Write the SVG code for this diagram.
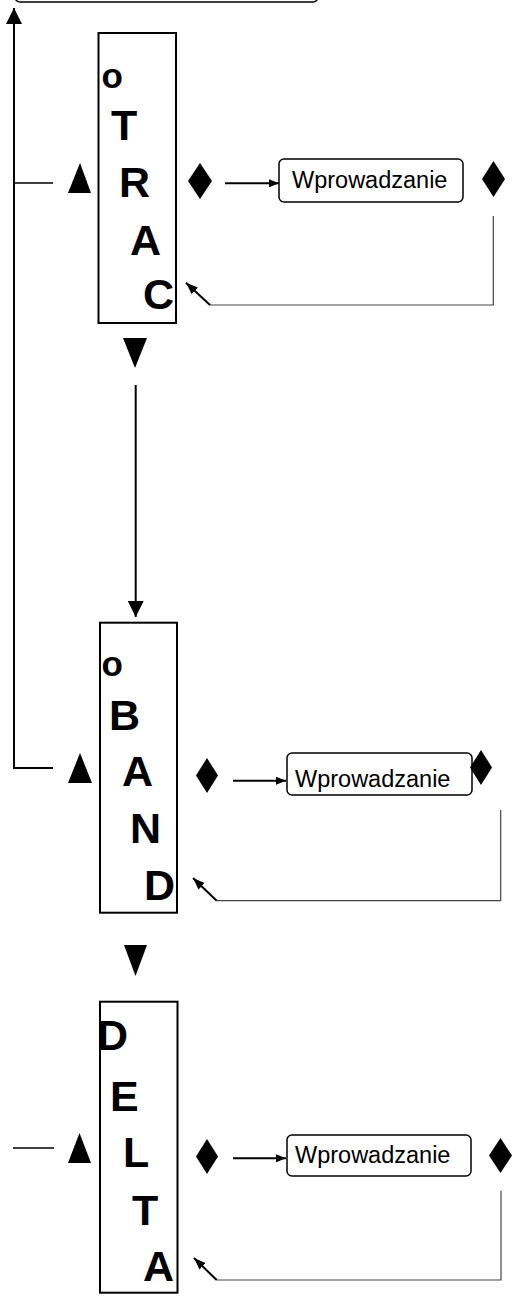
<svg xmlns="http://www.w3.org/2000/svg" width="513" height="1298" viewBox="0 0 513 1298">
  <style>
    .col { fill: #fff; stroke: #000; stroke-width: 2; }
    .entry { fill: #fff; stroke: #000; stroke-width: 1.5; }
    .big { font-family: "Liberation Sans", Arial, sans-serif; font-weight: bold; font-size: 43px; fill: #000; }
    .small-o { font-family: "Liberation Sans", Arial, sans-serif; font-weight: bold; font-size: 35px; fill: #000; }
    .label { font-family: "Liberation Sans", Arial, sans-serif; font-size: 23.5px; fill: #000; }
    .mark { fill: #000; stroke: none; }
    .wire { fill: none; stroke: #000; stroke-width: 2; }
    .thin { fill: none; stroke: #000; stroke-width: 1.5; }
    .ret { fill: none; stroke: #444; stroke-width: 1.2; }
  </style>
  <defs>
    <marker id="head-s" markerUnits="userSpaceOnUse" viewBox="0 0 10 8" refX="10" refY="4" markerWidth="10" markerHeight="8" orient="auto">
      <path d="M0,0 L10,4 L0,8 Z" fill="#000"/>
    </marker>
    <marker id="head-d" markerUnits="userSpaceOnUse" viewBox="0 0 12 9" refX="12" refY="4.5" markerWidth="12" markerHeight="9" orient="auto">
      <path d="M0,0 L12,4.5 L0,9 Z" fill="#000"/>
    </marker>
    <marker id="head-l" markerUnits="userSpaceOnUse" viewBox="0 0 16 16" refX="16" refY="8" markerWidth="16" markerHeight="16" orient="auto">
      <path d="M0,0 L16,8 L0,16 Z" fill="#000"/>
    </marker>
  </defs>

  <!-- top menu box (clipped at the upper edge) -->
  <g id="top-box">
    <rect x="15" y="-40" width="303" height="42" rx="5" class="entry"/>
  </g>

  <!-- TRAC column -->
  <g id="trac">
    <rect x="98.5" y="33" width="77.5" height="290" class="col"/>
    <text x="101.5" y="88" class="small-o">o</text>
    <text x="111" y="140" class="big">T</text>
    <text x="119" y="197" class="big">R</text>
    <text x="130" y="255" class="big">A</text>
    <text x="143" y="309" class="big">C</text>
  </g>
  <g id="trac-keys">
    <polygon points="80,163 68,193 91,193" class="mark"/>
    <polygon points="200,163 212,181 200,199 188,181" class="mark"/>
    <polygon points="493.5,161 505,179 493.5,197 482,179" class="mark"/>
    <polygon points="123,338 147,338 135,368" class="mark"/>
  </g>
  <g id="trac-entry">
    <rect x="279" y="159" width="184" height="43" rx="5" class="entry"/>
    <text x="292" y="188" class="label">Wprowadzanie</text>
  </g>

  <!-- BAND column -->
  <g id="band">
    <rect x="100" y="622.7" width="77" height="290" class="col"/>
    <text x="101.5" y="676" class="small-o">o</text>
    <text x="109" y="730" class="big">B</text>
    <text x="122" y="786" class="big">A</text>
    <text x="130" y="843" class="big">N</text>
    <text x="144" y="900" class="big">D</text>
  </g>
  <g id="band-keys">
    <polygon points="80,753 68,783 92,783" class="mark"/>
    <polygon points="207,758 218,775.5 207,793 196,775.5" class="mark"/>
    <polygon points="124,945 147,945 135.5,976" class="mark"/>
  </g>
  <g id="band-entry">
    <rect x="287" y="753" width="185" height="42" rx="5" class="entry"/>
    <text x="295" y="786.5" class="label">Wprowadzanie</text>
    <polygon points="481,750 492,767.5 481,785 470,767.5" class="mark"/>
  </g>

  <!-- DELTA column -->
  <g id="delta">
    <rect x="100" y="1001.7" width="77.5" height="291" class="col"/>
    <text x="97" y="1050" class="big">D</text>
    <text x="110" y="1110.5" class="big">E</text>
    <text x="123" y="1167" class="big">L</text>
    <text x="132" y="1225" class="big">T</text>
    <text x="143" y="1281" class="big">A</text>
  </g>
  <g id="delta-keys">
    <polygon points="79.5,1133 68,1163 91,1163" class="mark"/>
    <polygon points="207,1139 218,1156.5 207,1174 196,1156.5" class="mark"/>
    <polygon points="500.5,1138 512,1155.5 500.5,1173 489,1155.5" class="mark"/>
  </g>
  <g id="delta-entry">
    <rect x="287" y="1135" width="184" height="41" rx="5" class="entry"/>
    <text x="295" y="1163" class="label">Wprowadzanie</text>
  </g>

  <!-- connectors -->
  <g id="connectors">
    <!-- return path to the top menu -->
    <path d="M53,768 H14 V8" class="wire" marker-end="url(#head-l)"/>
    <path d="M53,183 H14" class="thin"/>
    <path d="M54,1148 H13" class="thin"/>
    <!-- TRAC to BAND -->
    <path d="M135.7,385 V617" class="wire" marker-end="url(#head-l)"/>
    <!-- into the entry boxes -->
    <path d="M225,183.3 H279" class="wire" marker-end="url(#head-s)"/>
    <path d="M233,780.7 H286" class="wire" marker-end="url(#head-s)"/>
    <path d="M233,1158.3 H286" class="wire" marker-end="url(#head-s)"/>
    <!-- back from the entry boxes -->
    <path d="M493.3,216 V305 H210" class="ret"/>
    <path d="M210,305 L186,282.7" class="wire" marker-end="url(#head-d)"/>
    <path d="M500.7,810 V900.7 H216.7" class="ret"/>
    <path d="M216.7,900.7 L193,878" class="wire" marker-end="url(#head-d)"/>
    <path d="M501,1190.7 V1280 H216.7" class="ret"/>
    <path d="M216.7,1280 L194,1258" class="wire" marker-end="url(#head-d)"/>
  </g>
</svg>
